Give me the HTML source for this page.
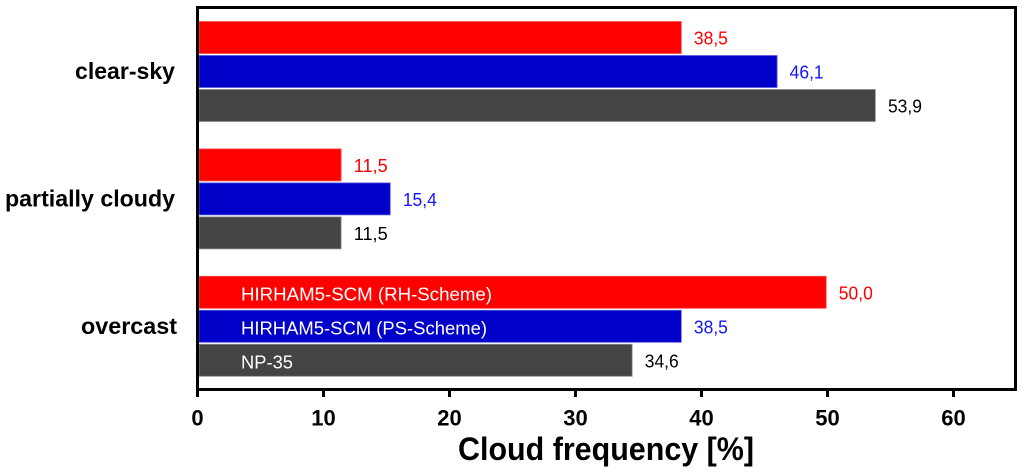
<!DOCTYPE html>
<html>
<head>
<meta charset="utf-8">
<title>Cloud frequency</title>
<style>
html,body{margin:0;padding:0;background:#fff;}
svg{display:block;}
text{font-family:"Liberation Sans",sans-serif;}
</style>
</head>
<body>
<svg id="chart" xmlns="http://www.w3.org/2000/svg" width="1024" height="476" viewBox="0 0 1024 476"></svg>
<script>
const categories = ['clear-sky', 'partially cloudy', 'overcast'];
const seriesNames = ['HIRHAM5-SCM (RH-Scheme)', 'HIRHAM5-SCM (PS-Scheme)', 'NP-35'];
const rhValues = [38.5, 11.5, 50.0];
const psValues = [46.1, 15.4, 38.5];
const npValues = [53.9, 11.5, 34.6];
const xTicks = [0, 10, 20, 30, 40, 50, 60];
const axisTitle = 'Cloud frequency [%]';

const NS = 'http://www.w3.org/2000/svg';
const svg = document.getElementById('chart');
const xScale = v => 197.5 + v * 12.6;
const barEnd = v => xScale(v) - 1.3;
const groupTop = i => 21.5 + i * 127.4;
const barTop = (i, s) => groupTop(i) + s * 34;
const barH = 32;
const fills = ['#ff0000', '#0000c8', '#444444'];
const strokes = ['#ff5050', '#5a5ae0', '#8c8c8c'];
const labelFills = ['#ff0000', '#1414ff', '#000000'];
const series = [rhValues, psValues, npValues];
const seriesKeys = ['rh', 'ps', 'np'];
const catKeys = ['clear-sky', 'partially-cloudy', 'overcast'];

function make(tag, attrs, txt) {
  const el = document.createElementNS(NS, tag);
  for (const k in attrs) el.setAttribute(k, attrs[k]);
  if (txt !== undefined) el.textContent = txt;
  svg.appendChild(el);
  return el;
}

series.forEach((vals, s) => {
  vals.forEach((v, i) => {
    const bar = make('rect', {x: 199, y: barTop(i, s), width: Math.max(0, barEnd(v) - 199), height: barH, fill: fills[s], stroke: strokes[s], 'stroke-width': 0.8});
    
    
    const lab = make('text', {x: barEnd(v) + 12.6, y: barTop(i, s) + barH / 2 + 7, 'font-size': 18.5, fill: labelFills[s], textLength: 34, lengthAdjust: 'spacingAndGlyphs'}, v.toFixed(1).replace('.', ','));
    
    
  });
});

const legendWidths = [251, 246, 52];
seriesNames.forEach((name, s) => {
  const t = make('text', {x: 241, y: barTop(2, s) + barH / 2 + 8, 'font-size': 18.5, fill: '#ffffff', textLength: legendWidths[s], lengthAdjust: 'spacingAndGlyphs'}, name);
  
  
});

const frame = make('rect', {x: 197.5, y: 7.5, width: 818, height: 382, fill: 'none', stroke: '#000', 'stroke-width': 3});



xTicks.forEach(v => {
  const tick = make('line', {x1: xScale(v), x2: xScale(v), y1: 389, y2: 397, stroke: '#000', 'stroke-width': 3});
  
  
  const lab = make('text', {x: xScale(v), y: 425.5, 'font-size': 22, 'font-weight': 'bold', 'text-anchor': 'middle', fill: '#000'}, String(v));
  
  
});

const catRight = [175, 175, 177];
const catWidth = [100, 170, 96];
categories.forEach((c, i) => {
  const t = make('text', {x: catRight[i] - catWidth[i], y: groupTop(i) + 57.5, 'font-size': 23, 'font-weight': 'bold', fill: '#000', textLength: catWidth[i], lengthAdjust: 'spacingAndGlyphs'}, c);
  
  
});

const title = make('text', {x: 458, y: 460, 'font-size': 32, 'font-weight': 'bold', fill: '#000', textLength: 296, lengthAdjust: 'spacingAndGlyphs'}, axisTitle);


</script>
</body>
</html>
